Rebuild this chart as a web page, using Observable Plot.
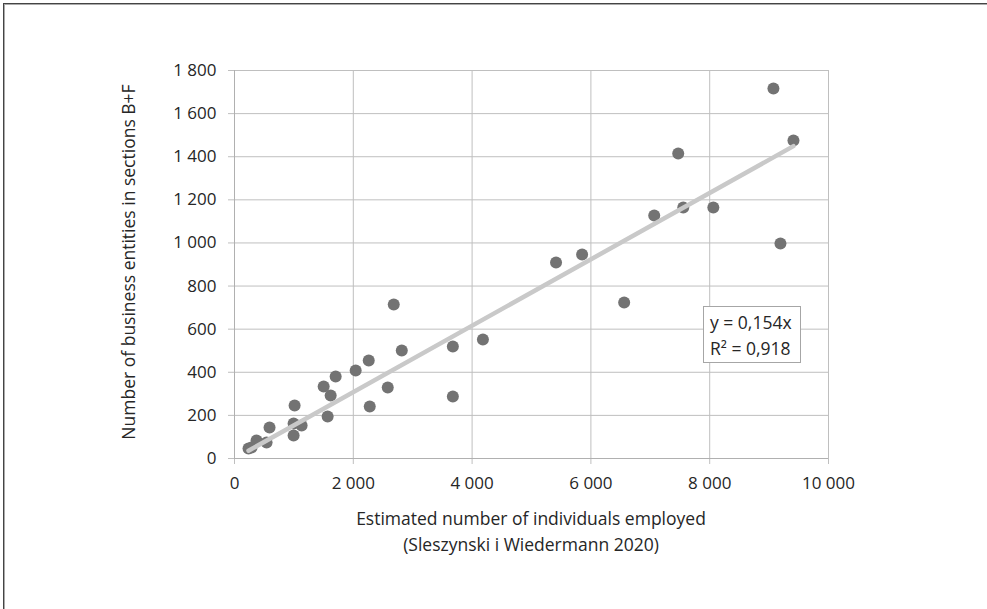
<!DOCTYPE html>
<html><head><meta charset="utf-8">
<script src="https://cdn.jsdelivr.net/npm/d3@7"></script>
<script src="https://cdn.jsdelivr.net/npm/@observablehq/plot@0.6"></script>
<style>
body{margin:0;background:#fff;}
#wrap{position:relative;width:987px;height:609px;overflow:hidden;font-family:"Open Sans",sans-serif;color:#262626;}
#frame{position:absolute;left:3px;top:3px;width:1100px;height:800px;border-left:1px solid #444;border-top:1px solid #444;box-shadow:inset 1px 1px 0 #aaa;pointer-events:none;}
#chart{position:absolute;left:0;top:0;}
.t{position:absolute;font-size:17.5px;white-space:nowrap;}
#xt{left:234px;width:594px;top:505px;text-align:center;line-height:26px;}
#yt{left:128px;top:262px;transform:translate(-50%,-50%) rotate(-90deg);}
#eq{position:absolute;left:703px;top:306px;width:98px;height:57px;border:1px solid #a6a6a6;background:#fff;font-size:17.5px;line-height:26px;box-sizing:border-box;padding:2px 0 0 6px;}
</style></head>
<body>
<div id="wrap">
  <div id="chart"></div>
  <div id="xt" class="t"></div>
  <div id="yt" class="t"></div>
  <div id="eq"></div>
  <div id="frame"></div>
</div>
<script>
const employed = [236, 287, 371, 540, 590, 995, 1130, 995, 1012, 1568, 1501, 1619, 1703, 2040, 2260, 2277, 2580, 2681, 2816, 3676, 3676, 4182, 5413, 5852, 6560, 7066, 7470, 7555, 8061, 9073, 9191, 9410];
const entities = [46, 51, 84, 74, 144, 162, 153, 107, 246, 195, 334, 292, 380, 408, 455, 241, 329, 714, 501, 520, 288, 552, 909, 946, 724, 1127, 1415, 1164, 1164, 1716, 997, 1475];
const slope = 0.154;
const rSquared = "0,918";
const xTicks = [0, 2000, 4000, 6000, 8000, 10000];
const yTicks = [0, 200, 400, 600, 800, 1000, 1200, 1400, 1600, 1800];
const xTitle = ["Estimated number of individuals employed", "(Sleszynski i Wiedermann 2020)"];
const yTitle = "Number of business entities in sections B+F";

const data = employed.map((x, i) => ({x, y: entities[i]}));
const xr = d3.extent(employed);
const trend = xr.map(x => ({x, y: slope * x}));
const fmt = d3.formatLocale({decimal: ",", thousands: " ", grouping: [3], currency: ["", ""]}).format(",");

const grid = "#bfbfbf";
const chart = Plot.plot({
  width: 987, height: 609,
  marginLeft: 234, marginRight: 159, marginTop: 70, marginBottom: 151,
  style: {fontFamily: "Open Sans, sans-serif", fontSize: "17px", color: "#262626", background: "transparent"},
  x: {domain: [0, 10000], label: null},
  y: {domain: [0, 1800], label: null},
  marks: [
    Plot.gridX(xTicks, {stroke: grid, strokeOpacity: 1}),
    Plot.gridY(yTicks, {stroke: grid, strokeOpacity: 1}),
    Plot.axisX(xTicks, {tickFormat: fmt, tickSize: 6, tickPadding: 12, stroke: grid, fill: "#262626", label: null}),
    Plot.axisY(yTicks, {tickFormat: fmt, tickSize: 6, tickPadding: 12, stroke: grid, fill: "#262626", label: null}),
    Plot.ruleY([0], {stroke: "#b0b0b0"}),
    Plot.ruleX([0], {stroke: "#b0b0b0"}),
    Plot.dot(data, {x: "x", y: "y", r: 6, fill: "#737373", stroke: "none"}),
    Plot.line(trend, {x: "x", y: "y", stroke: "#c9c9c9", strokeWidth: 4.5})
  ]
});
document.getElementById("chart").appendChild(chart);
document.getElementById("xt").innerHTML = xTitle.join("<br>");
document.getElementById("yt").textContent = yTitle;
document.getElementById("eq").innerHTML = `y = ${String(slope).replace(".", ",")}x<br>R² = ${rSquared}`;
</script>
</body></html>
